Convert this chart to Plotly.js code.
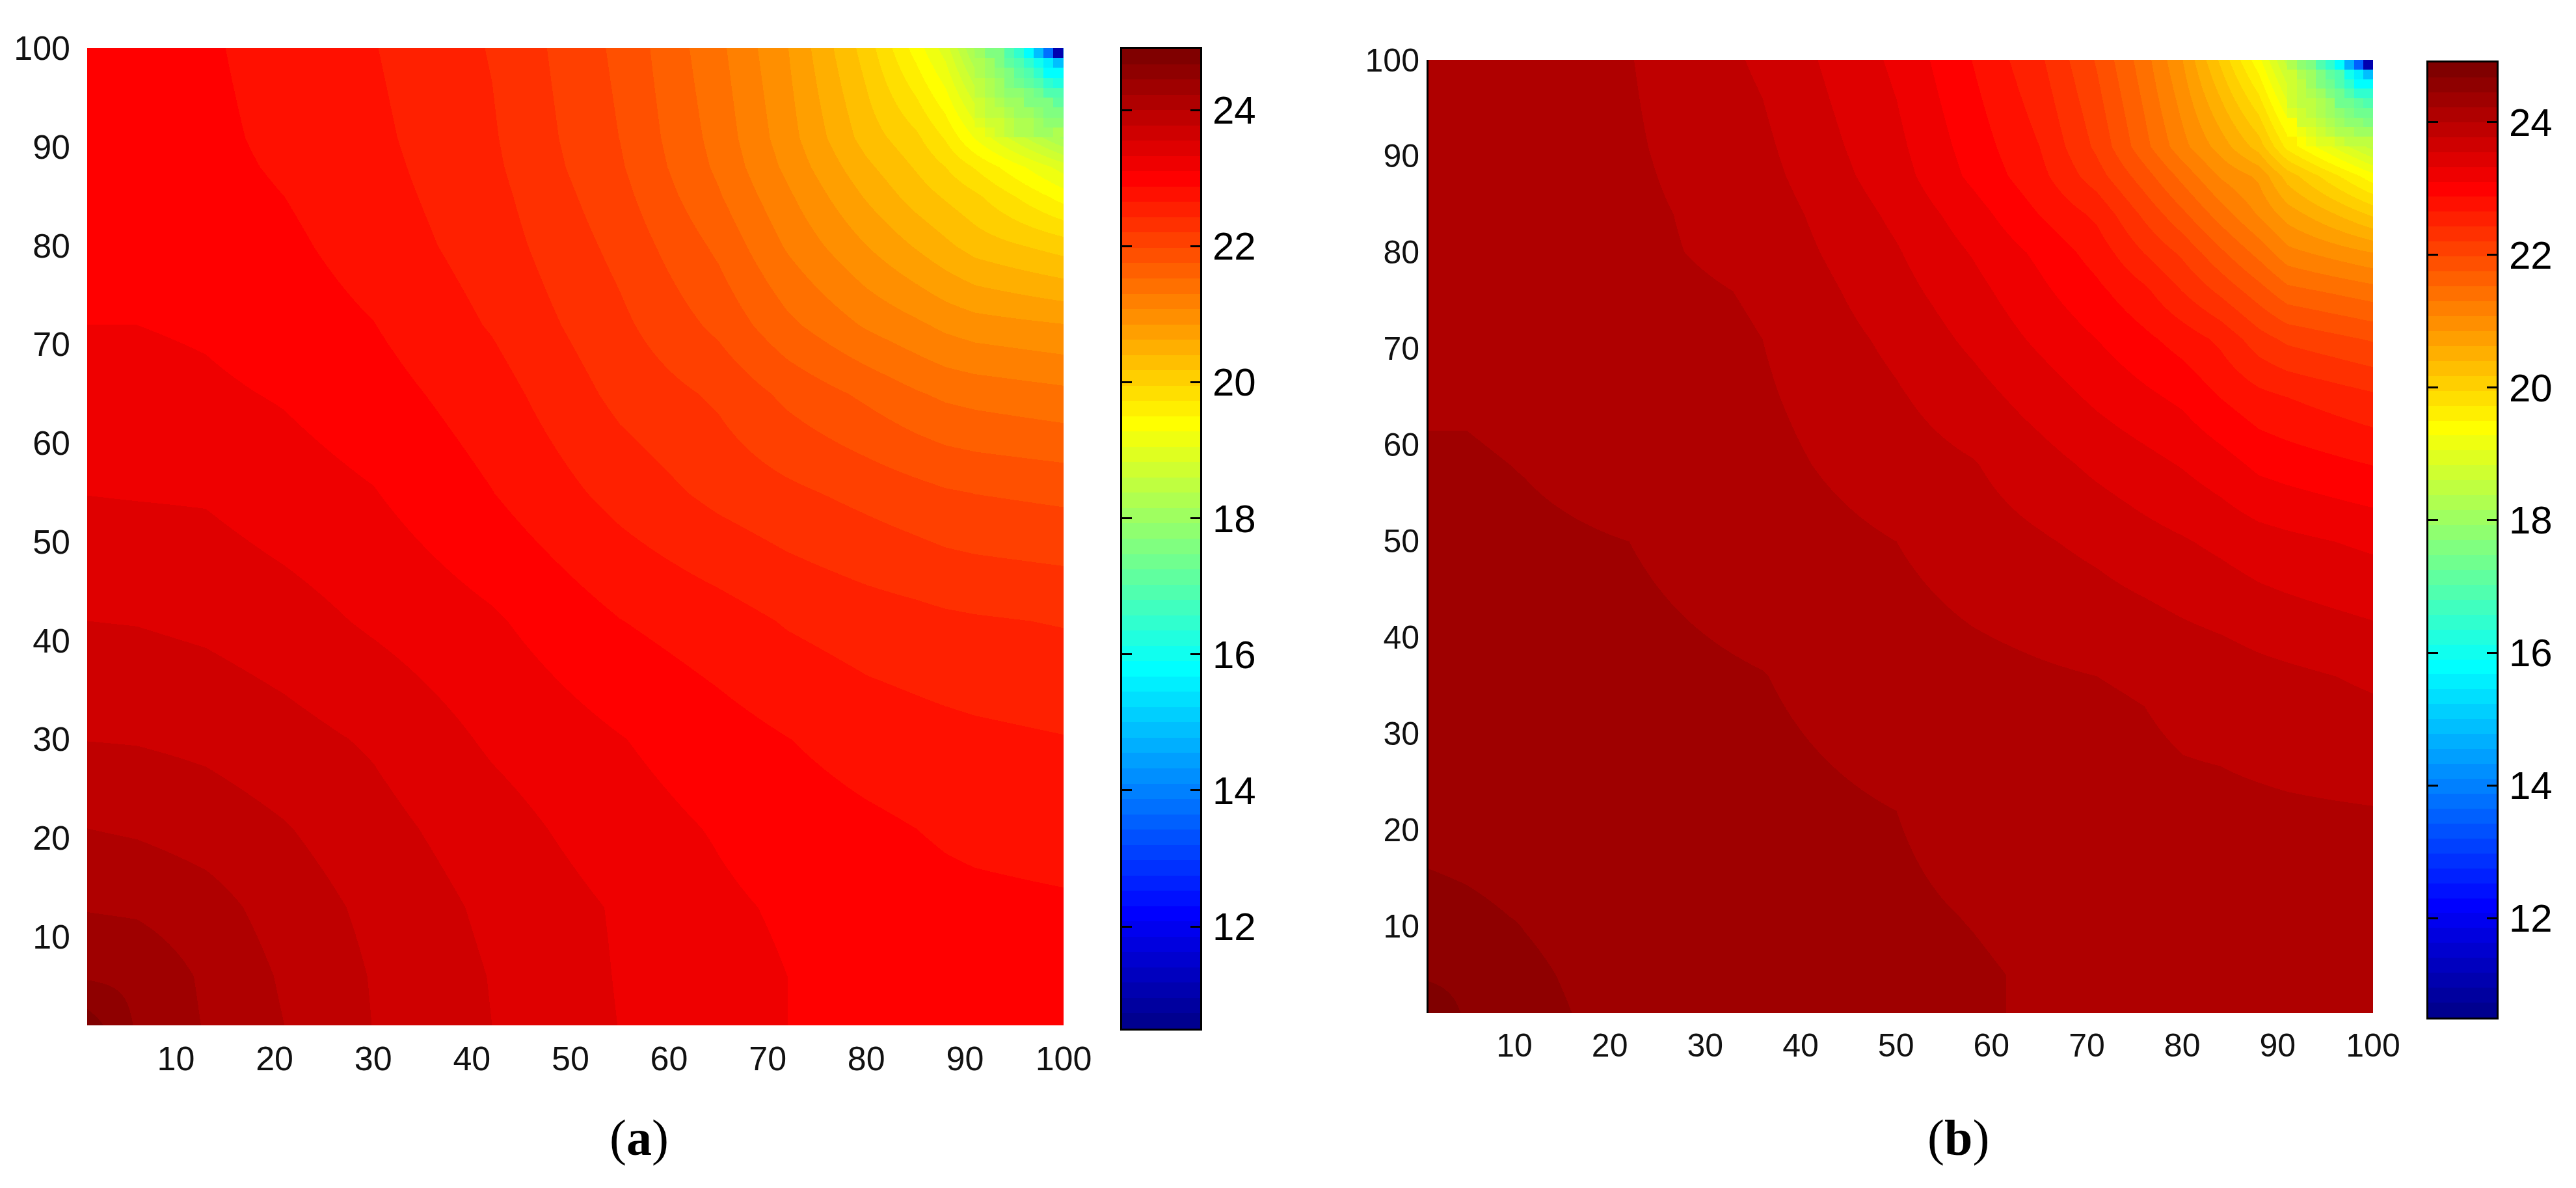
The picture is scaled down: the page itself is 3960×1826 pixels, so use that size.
<!DOCTYPE html>
<html>
<head>
<meta charset="utf-8">
<script src="https://cdn.plot.ly/plotly-3.0.1.min.js"></script>
<style>
    html, body { margin: 0; padding: 0; background: #fff; }
    #plot { width: 3960px; height: 1826px; }
</style>
</head>
<body>
<div id="plot"></div>
<script>
// --- values (a) ---
const nodesA = [1, 6, 13, 21, 30, 42, 55, 65, 72, 80, 85, 88, 91, 100];
const fieldA = [
    [24.8, 24.42, 24.21, 24.0, 23.77, 23.55, 23.32, 23.19, 23.1, 23.05, 23.03, 23.02, 23.01, 23.0],
    [24.42, 24.39, 24.19, 23.97, 23.76, 23.54, 23.31, 23.18, 23.1, 23.04, 23.02, 23.0, 22.99, 22.97],
    [24.21, 24.19, 24.09, 23.9, 23.72, 23.5, 23.3, 23.14, 23.07, 22.97, 22.95, 22.93, 22.92, 22.9],
    [24.0, 23.97, 23.9, 23.79, 23.63, 23.42, 23.2, 23.08, 22.99, 22.92, 22.875, 22.85, 22.83, 22.8],
    [23.77, 23.76, 23.72, 23.63, 23.52, 23.29, 23.11, 22.97, 22.88, 22.78, 22.74, 22.72, 22.7, 22.66],
    [23.55, 23.54, 23.5, 23.42, 23.29, 23.13, 22.88, 22.75, 22.63, 22.54, 22.5, 22.47, 22.45, 22.41],
    [23.32, 23.31, 23.3, 23.2, 23.11, 22.88, 22.57, 22.36, 22.25, 22.13, 22.05, 22.0, 21.97, 21.92],
    [23.19, 23.18, 23.14, 23.08, 22.97, 22.75, 22.36, 22.16, 21.92, 21.7, 21.55, 21.48, 21.44, 21.36],
    [23.1, 23.1, 23.07, 22.99, 22.88, 22.63, 22.25, 21.92, 21.58, 21.27, 21.12, 21.02, 20.95, 20.86],
    [23.05, 23.04, 22.97, 22.92, 22.78, 22.54, 22.13, 21.7, 21.27, 20.85, 20.6, 20.45, 20.3, 20.07],
    [23.03, 23.02, 22.95, 22.875, 22.74, 22.5, 22.05, 21.55, 21.12, 20.6, 20.3, 20.15, 20.0, 19.4],
    [23.02, 23.0, 22.93, 22.85, 22.72, 22.47, 22.0, 21.48, 21.02, 20.45, 20.15, 19.95, 19.7, 18.94],
    [23.01, 22.99, 22.92, 22.83, 22.7, 22.45, 21.97, 21.44, 20.95, 20.3, 20.0, 19.7, 19.25, 18.1],
    [23.0, 22.97, 22.9, 22.8, 22.66, 22.41, 21.92, 21.36, 20.86, 20.07, 19.4, 18.94, 18.1, 15.0]
];
// cells of the top right corner, top row first
const cornerA = [
    [18.04, 17.59, 17.48, 16.91, 16.46, 15.79, 14.89, 13.76, 11.06],
    [18.15, 18.04, 17.48, 17.14, 16.91, 16.46, 16.01, 15.45, 14.89],
    [18.27, 17.93, 17.81, 17.48, 17.14, 16.91, 16.46, 15.79, 15.79],
    [18.38, 18.15, 17.93, 17.59, 17.36, 17.14, 16.91, 16.46, 16.24],
    [18.49, 18.27, 18.04, 17.81, 17.81, 17.48, 17.25, 16.91, 16.91],
    [18.72, 18.38, 18.27, 18.04, 17.93, 17.59, 17.59, 17.48, 17.14],
    [18.72, 18.49, 18.38, 18.15, 18.04, 18.04, 17.81, 17.59, 17.59],
    [18.94, 18.6, 18.6, 18.38, 18.15, 18.15, 17.93, 17.81, 17.81],
    [19.05, 18.83, 18.72, 18.49, 18.27, 18.27, 18.04, 18.04, 18.15]
];

// --- values (b) ---
const nodesB = [1, 5, 11, 22, 36, 50, 58, 65, 71, 76, 80, 84, 88, 91, 100];
const fieldB = [
    [24.8, 24.65, 24.5, 24.39, 24.32, 24.26, 24.24, 24.21, 24.2, 24.19, 24.18, 24.17, 24.16, 24.15, 24.12],
    [24.65, 24.62, 24.48, 24.38, 24.31, 24.26, 24.24, 24.21, 24.19, 24.18, 24.17, 24.16, 24.15, 24.14, 24.11],
    [24.5, 24.48, 24.44, 24.36, 24.29, 24.25, 24.22, 24.19, 24.17, 24.16, 24.14, 24.13, 24.13, 24.11, 24.08],
    [24.39, 24.38, 24.36, 24.33, 24.28, 24.225, 24.17, 24.12, 24.09, 24.07, 24.05, 24.05, 24.04, 24.03, 24.01],
    [24.32, 24.31, 24.29, 24.28, 24.23, 24.12, 24.07, 24.03, 24.0, 23.98, 23.93, 23.9, 23.85, 23.82, 23.74],
    [24.26, 24.26, 24.25, 24.225, 24.12, 24.0, 23.88, 23.8, 23.72, 23.63, 23.57, 23.5, 23.42, 23.38, 23.28],
    [24.24, 24.24, 24.22, 24.17, 24.07, 23.88, 23.79, 23.64, 23.5, 23.4, 23.31, 23.2, 23.05, 23.0, 22.87],
    [24.21, 24.21, 24.19, 24.12, 24.03, 23.8, 23.64, 23.45, 23.28, 23.15, 23.05, 22.87, 22.72, 22.65, 22.47],
    [24.2, 24.19, 24.17, 24.09, 24.0, 23.72, 23.5, 23.28, 23.1, 22.93, 22.78, 22.6, 22.3, 22.15, 21.95],
    [24.19, 24.18, 24.16, 24.07, 23.98, 23.63, 23.4, 23.15, 22.93, 22.7, 22.42, 22.15, 21.85, 21.6, 21.4],
    [24.18, 24.17, 24.14, 24.05, 23.93, 23.57, 23.31, 23.05, 22.78, 22.42, 22.15, 21.8, 21.45, 21.15, 20.85],
    [24.17, 24.16, 24.13, 24.05, 23.9, 23.5, 23.2, 22.87, 22.6, 22.15, 21.8, 21.42, 21.05, 20.75, 20.13],
    [24.16, 24.15, 24.13, 24.04, 23.85, 23.42, 23.05, 22.72, 22.3, 21.85, 21.45, 21.05, 20.8, 20.3, 19.35],
    [24.15, 24.14, 24.11, 24.03, 23.82, 23.38, 23.0, 22.65, 22.15, 21.6, 21.15, 20.75, 20.3, 19.65, 18.5],
    [24.12, 24.11, 24.08, 24.01, 23.74, 23.28, 22.87, 22.47, 21.95, 21.4, 20.85, 20.13, 19.35, 18.5, 15.0]
];
const cornerB = [
    [18.15, 17.7, 17.59, 16.91, 16.46, 15.79, 14.75, 13.5, 11.1],
    [18.6, 18.15, 17.93, 17.48, 17.14, 16.8, 16.0, 15.6, 14.9],
    [18.6, 18.38, 17.93, 17.59, 17.25, 16.8, 16.46, 15.8, 15.79],
    [18.72, 18.38, 18.15, 17.93, 17.48, 17.25, 16.8, 16.57, 16.46],
    [18.72, 18.49, 18.38, 18.15, 17.93, 17.36, 17.25, 17.03, 16.8],
    [18.83, 18.6, 18.49, 18.27, 18.04, 17.7, 17.48, 17.36, 17.25],
    [19.3, 18.72, 18.6, 18.38, 18.15, 18.04, 17.81, 17.81, 17.59],
    [19.4, 19.17, 18.94, 18.72, 18.49, 18.27, 18.15, 18.04, 18.04],
    [19.6, 19.4, 19.17, 18.94, 18.83, 18.6, 18.49, 18.38, 18.38]
];

const cornerEdgesX = [91, 92, 93, 94, 95, 96, 97, 98, 99, 100];
const cornerEdgesY = [100, 99, 98, 97, 96, 95, 94, 93, 92, 91];
const axisTicks = [10, 20, 30, 40, 50, 60, 70, 80, 90, 100];
const barTicks = [12, 14, 16, 18, 20, 22, 24];
const zMin = 10.5;
const zMax = 24.9;
const levelCount = 64;

// --- 64 step jet colour table, same bands as the original figure ---
function jetColor(i) {
    const n = i + 1;
    const clip = (v) => Math.round(255 * Math.max(0, Math.min(1, v)));
    const r = n <= 24 ? 0 : n <= 40 ? (n - 24) / 16 : n <= 56 ? 1 : 1 - (n - 56) / 16;
    const g = n <= 8 ? 0 : n <= 24 ? (n - 8) / 16 : n <= 40 ? 1 : 1 - (n - 40) / 16;
    const b = n <= 8 ? 0.5 + n / 16 : n <= 24 ? 1 : n <= 40 ? 1 - (n - 24) / 16 : 0;
    return `rgb(${clip(r)},${clip(g)},${clip(b)})`;
}
const jetSteps = [];
for (let i = 0; i < levelCount; i++) {
    jetSteps.push([i / levelCount, jetColor(i)]);
    jetSteps.push([(i + 1) / levelCount, jetColor(i)]);
}

// colorbars are small heatmaps so that ticks can sit on both sides
const barEdges = [];
const barLevels = [];
for (let i = 0; i <= levelCount; i++) barEdges.push(zMin + (zMax - zMin) * i / levelCount);
for (let i = 0; i < levelCount; i++) barLevels.push([zMin + (zMax - zMin) * (i + 0.5) / levelCount]);

const heat = { type: 'heatmap', colorscale: jetSteps, zmin: zMin, zmax: zMax, showscale: false, hoverinfo: 'skip' };

const traces = [
    { ...heat, x: nodesA, y: nodesA, z: fieldA, zsmooth: 'best', xaxis: 'x', yaxis: 'y' },
    { ...heat, x: cornerEdgesX, y: cornerEdgesY, z: cornerA, zsmooth: false, xaxis: 'x', yaxis: 'y' },
    { ...heat, x: [0, 1], y: barEdges, z: barLevels, zsmooth: false, xaxis: 'x2', yaxis: 'y2' },
    { ...heat, x: nodesB, y: nodesB, z: fieldB, zsmooth: 'best', xaxis: 'x3', yaxis: 'y3' },
    { ...heat, x: cornerEdgesX, y: cornerEdgesY, z: cornerB, zsmooth: false, xaxis: 'x3', yaxis: 'y3' },
    { ...heat, x: [0, 1], y: barEdges, z: barLevels, zsmooth: false, xaxis: 'x4', yaxis: 'y4' }
];

// --- layout helpers: pixels of the 3960x1826 page to paper fractions ---
const W = 3960, H = 1826;
const domX = (a, b) => [a / W, b / W];
const domY = (top, bottom) => [1 - bottom / H, 1 - top / H];
const tickFont = { family: 'Liberation Sans, Arial, sans-serif', size: 52, color: '#111' };
const barFont = { family: 'Liberation Sans, Arial, sans-serif', size: 60, color: '#000' };
const captionFont = { family: 'Liberation Serif, serif', size: 78, color: '#000' };

function mainX(dom) {
    return { domain: dom, range: [1, 100], tickvals: axisTicks, ticks: '', showgrid: false, zeroline: false, showline: false, tickfont: tickFont, ticklabelstandoff: 16 };
}
function mainY(dom, standoff) {
    return { domain: dom, range: [1, 100], tickvals: axisTicks, ticks: '', showgrid: false, zeroline: false, showline: false, tickfont: tickFont, ticklabelstandoff: standoff };
}
function barX(dom) {
    return { domain: dom, range: [0, 1], showticklabels: false, ticks: '', showgrid: false, zeroline: false, showline: true, mirror: true, linecolor: '#000', linewidth: 3 };
}
function barY(dom, anchor) {
    return {
        domain: dom, anchor: anchor, side: 'right', range: [zMin, zMax], tickvals: barTicks,
        ticks: 'inside', ticklen: 15, tickwidth: 3, tickcolor: '#000', showgrid: false, zeroline: false,
        showline: true, mirror: 'ticks', linecolor: '#000', linewidth: 3, tickfont: barFont, ticklabelstandoff: 4
    };
}
function caption(text, px) {
    return { text: text, xref: 'paper', yref: 'paper', x: px / W, y: 1 - 1748 / H, xanchor: 'center', yanchor: 'middle', showarrow: false, font: captionFont };
}

const layout = {
    width: W,
    height: H,
    margin: { l: 0, r: 0, t: 0, b: 0 },
    paper_bgcolor: '#fff',
    plot_bgcolor: '#fff',
    showlegend: false,
    xaxis: { ...mainX(domX(134, 1635)), anchor: 'y' },
    yaxis: { ...mainY(domY(74, 1576), 25), anchor: 'x' },
    xaxis2: { ...barX(domX(1725, 1845)), anchor: 'y2' },
    yaxis2: barY(domY(75, 1581), 'x2'),
    xaxis3: { ...mainX(domX(2196, 3648)), anchor: 'y3', tickfont: { ...tickFont, size: 50 } },
    yaxis3: { ...mainY(domY(92, 1557), 1), anchor: 'x3', tickfont: { ...tickFont, size: 50 }, showline: true, linecolor: '#000', linewidth: 3 },
    xaxis4: { ...barX(domX(3733, 3838)), anchor: 'y4' },
    yaxis4: barY(domY(96, 1564), 'x4'),
    annotations: [caption('(<b>a</b>)', 982), caption('(<b>b</b>)', 3010)]
};

Plotly.newPlot('plot', traces, layout, { displayModeBar: false, responsive: false });
</script>
</body>
</html>
